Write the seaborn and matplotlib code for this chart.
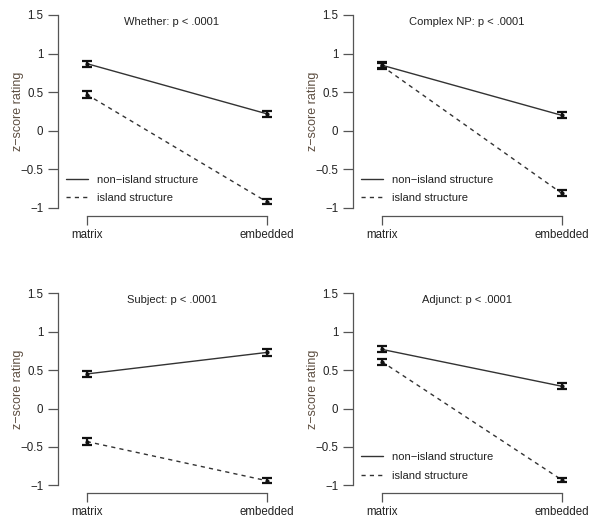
import matplotlib
matplotlib.use("Agg")
import matplotlib.pyplot as plt
import seaborn as sns
import pandas as pd
from matplotlib.lines import Line2D

sns.set_theme(style="white")
plt.rcParams['font.family'] = ['Liberation Sans', 'DejaVu Sans']

panels = ["Whether", "Complex NP", "Subject", "Adjunct"]
titles = ["Whether: p < .0001", "Complex NP: p < .0001", "Subject: p < .0001", "Adjunct: p < .0001"]
conditions = ["matrix", "embedded"]
structures = ["non\u2212island structure", "island structure"]

nonisland_means = {"Whether": [0.87, 0.22], "Complex NP": [0.85, 0.20],
                   "Subject": [0.45, 0.73], "Adjunct": [0.77, 0.29]}
island_means = {"Whether": [0.47, -0.92], "Complex NP": [0.84, -0.81],
                "Subject": [-0.43, -0.94], "Adjunct": [0.61, -0.93]}
nonisland_err = {"Whether": [0.04, 0.04], "Complex NP": [0.04, 0.04],
                 "Subject": [0.04, 0.04], "Adjunct": [0.04, 0.04]}
island_err = {"Whether": [0.04, 0.03], "Complex NP": [0.04, 0.04],
              "Subject": [0.04, 0.03], "Adjunct": [0.04, 0.03]}
show_legend = {"Whether": True, "Complex NP": True, "Subject": False, "Adjunct": True}
yticks = [-1, -0.5, 0, 0.5, 1, 1.5]
ytick_labels = ["\u22121", "\u22120.5", "0", "0.5", "1", "1.5"]

rows = []
for p in panels:
    for i, c in enumerate(conditions):
        rows.append(dict(panel=p, cond=c, x=i, structure=structures[0],
                         z=nonisland_means[p][i], err=nonisland_err[p][i]))
        rows.append(dict(panel=p, cond=c, x=i, structure=structures[1],
                         z=island_means[p][i], err=island_err[p][i]))
df = pd.DataFrame(rows)

W, H = 590, 521
fig = plt.figure(figsize=(W / 100, H / 100), dpi=100)

px_unit_x = 180.0
xlim = (-0.16, 1.14)
ax_w = (xlim[1] - xlim[0]) * px_unit_x
ylim = (-1.104, 1.5)
boxes = [(58, 15, 216), (353, 15, 216), (58, 293.3, 493.3), (353, 293.3, 493.3)]

textc = "#222222"
linec = "#333333"
axc = "#555555"
labc = "#5e4f42"

for p, t, (lx, top, bot) in zip(panels, titles, boxes):
    ax = fig.add_axes([lx / W, 1 - bot / H, ax_w / W, (bot - top) / H])
    sub = df[df.panel == p]
    sns.lineplot(data=sub, x="x", y="z", style="structure", style_order=structures,
                 dashes={structures[0]: "", structures[1]: (3, 3)},
                 color=linec, linewidth=1.0, ax=ax, legend=False, sort=False,
                 estimator=None, errorbar=None)
    ax.errorbar(sub["x"], sub["z"], yerr=sub["err"], fmt="o", color="#111111",
                ms=2, elinewidth=1.6, capsize=3.5, capthick=1.6, zorder=5)
    ax.set_xlim(*xlim)
    ax.set_ylim(*ylim)
    for s in ["top", "right"]:
        ax.spines[s].set_visible(False)
    for s in ["left", "bottom"]:
        ax.spines[s].set_color(axc)
        ax.spines[s].set_linewidth(0.9)
    ax.spines["left"].set_bounds(-1, 1.5)
    ax.spines["bottom"].set_bounds(0, 1)
    ax.set_xticks([0, 1])
    ax.set_xticklabels(conditions)
    ax.set_yticks(yticks)
    ax.set_yticklabels(ytick_labels)
    ax.tick_params(axis="both", which="both", direction="out", colors=axc,
                   labelcolor=textc, labelsize=8.3, width=0.9,
                   bottom=True, left=True, top=False, right=False)
    ax.tick_params(axis="y", length=7, pad=3.5)
    ax.tick_params(axis="x", length=6.5, pad=2.5)
    ax.set_xlabel("")
    ax.set_ylabel("")
    ax.text(-0.17, 0.52, "z\u2212score rating", transform=ax.transAxes, rotation=90,
            ha="center", va="center", fontsize=9, color=labc)
    ax.text(0.487, 0.965, t, transform=ax.transAxes, ha="center", va="center",
            fontsize=8, color=textc)
    ax.patch.set_alpha(0)
    if show_legend[p]:
        handles = [Line2D([], [], color=linec, lw=1.0, ls="-"),
                   Line2D([], [], color=linec, lw=1.0, ls=(0, (3, 3)))]
        leg = ax.legend(handles, structures, loc="upper left",
                        bbox_to_anchor=(0.035, 0.205), frameon=False, fontsize=8,
                        borderpad=0, borderaxespad=0, handlelength=2.0,
                        handletextpad=0.8, labelspacing=0.75)
        for tx in leg.get_texts():
            tx.set_color(textc)

fig.savefig("out.png", dpi=100)
